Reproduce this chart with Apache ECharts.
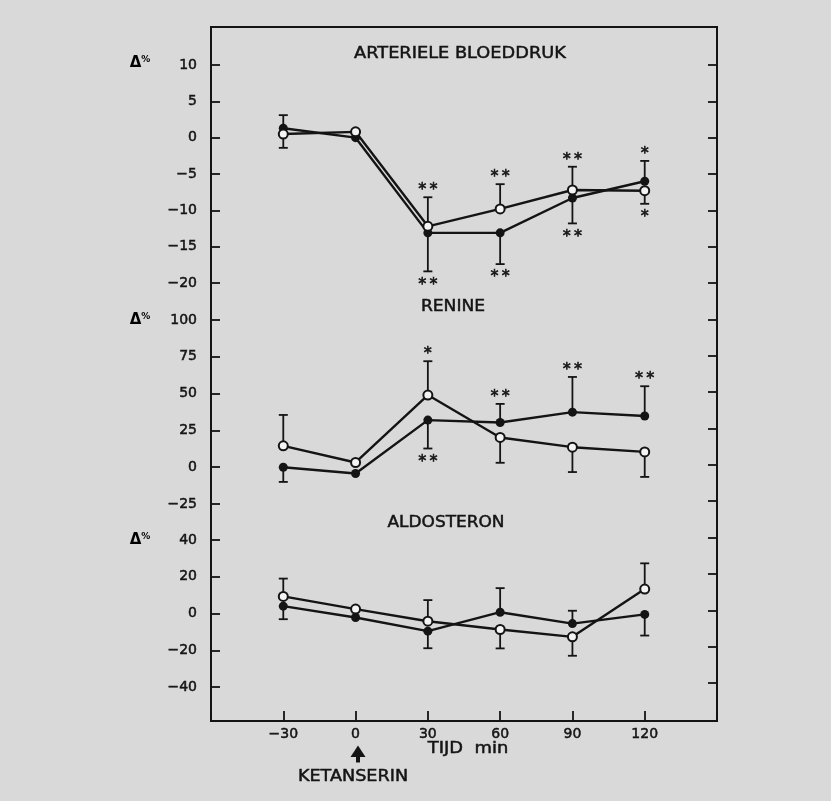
<!DOCTYPE html>
<html>
<head>
<meta charset="utf-8">
<script src="https://cdn.jsdelivr.net/npm/echarts@6/dist/echarts.min.js"></script>
<style>
  html, body { margin: 0; padding: 0; background: #d9d9d9; }
  #chart { width: 831px; height: 801px; }
</style>
</head>
<body>
<div id="chart"></div>
<script>
// Sampling times (min) relative to ketanserin administration
const times = [-30, 0, 30, 60, 90, 120];
const xTickLabels = [-30, 0, 30, 60, 90, 120];

// Arteriële bloeddruk, Δ% (filled = ●, open = ○); SEM drawn away from the other curve
const bpFilled    = [1.3, 0.0, -13.1, -13.1, -8.3, -6.0];
const bpOpen      = [0.5, 0.8, -12.2, -9.8, -7.2, -7.3];
const bpSemFilled = [1.8, null, 5.3, 4.3, 3.5, 2.8];
const bpSemOpen   = [1.9, null, 4.0, 3.4, 3.2, 1.8];
const bpSigFilled = ['', '', '**', '**', '**', '*'];
const bpSigOpen   = ['', '', '**', '**', '**', '*'];

// Renine, Δ%
const reFilled    = [0.0, -4.3, 32.0, 30.4, 37.4, 34.8];
const reOpen      = [14.5, 3.2, 49.0, 20.2, 13.6, 10.4];
const reSemFilled = [10.0, null, 19.3, 12.6, 23.9, 20.2];
const reSemOpen   = [21.0, null, 23.0, 17.2, 16.9, 17.0];
const reSigFilled = ['', '', '**', '**', '**', '**'];
const reSigOpen   = ['', '', '*', '', '', ''];

// Aldosteron, Δ%
const alFilled    = [4.0, -2.2, -9.6, 0.7, -5.5, -0.5];
const alOpen      = [9.3, 2.4, -4.2, -8.7, -12.7, 13.3];
const alSemFilled = [7.1, null, 9.3, 13.1, 7.0, 11.5];
const alSemOpen   = [9.7, null, 11.5, 10.3, 10.3, 14.0];
const alSig       = ['', '', '', '', '', ''];

// Y-axis scales per panel
const bpAxis = { min: -20, max: 10, interval: 5 };
const reAxis = { min: -25, max: 100, interval: 25 };
const alAxis = { min: -40, max: 40, interval: 20 };

const INK = '#141414';
const FONT = 'DejaVu Sans';
const minus = v => String(v).replace('-', '\u2212');

// Frame geometry (pixels)
const L = 211, R = 114;

const panels = [
  { filled: bpFilled, open: bpOpen, semF: bpSemFilled, semO: bpSemOpen, sigF: bpSigFilled, sigO: bpSigOpen, axis: bpAxis, top: 65, bottom: 518 },
  { filled: reFilled, open: reOpen, semF: reSemFilled, semO: reSemOpen, sigF: reSigFilled, sigO: reSigOpen, axis: reAxis, top: 320, bottom: 297 },
  { filled: alFilled, open: alOpen, semF: alSemFilled, semO: alSemOpen, sigF: alSig, sigO: alSig, axis: alAxis, top: 540, bottom: 114 }
];

// error bar items: [time, mean, end, direction]
function errItems(vals, other, sem, sig) {
  const out = [];
  vals.forEach((v, i) => {
    if (sem[i] == null) return;
    const dir = v >= other[i] ? 1 : -1;
    out.push({ value: [times[i], v, v + dir * sem[i], dir], sig: sig[i] });
  });
  return out;
}

function errorBarSeries(items, axisIdx) {
  return {
    type: 'custom', xAxisIndex: axisIdx, yAxisIndex: axisIdx, z: 1, silent: true, clip: false,
    data: items.map(d => d.value),
    renderItem(params, api) {
      const x = api.value(0);
      const a = api.coord([x, api.value(1)]);
      const b = api.coord([x, api.value(2)]);
      const dir = api.value(3);
      const sig = items[params.dataIndex].sig;
      const children = [
        { type: 'line', shape: { x1: a[0], y1: a[1], x2: b[0], y2: b[1] }, style: { stroke: INK, lineWidth: 1.8 } },
        { type: 'line', shape: { x1: b[0] - 4.5, y1: b[1], x2: b[0] + 4.5, y2: b[1] }, style: { stroke: INK, lineWidth: 1.8 } }
      ];
      if (sig) {
        children.push({
          type: 'text', x: b[0], y: dir > 0 ? b[1] - 7 : b[1] + 13,
          style: {
            text: sig.split('').join('\u2009'), fill: INK, stroke: INK, lineWidth: 0.6,
            fontSize: 16, fontFamily: FONT, align: 'center', verticalAlign: 'middle'
          }
        });
      }
      return { type: 'group', children };
    }
  };
}

function lineSeries(vals, axisIdx, open) {
  return {
    type: 'line', xAxisIndex: axisIdx, yAxisIndex: axisIdx, z: 3, silent: true,
    data: times.map((t, i) => [t, vals[i]]),
    symbol: 'circle', symbolSize: 9, showAllSymbol: true,
    lineStyle: { color: INK, width: 2.4 },
    itemStyle: { color: open ? '#f4f4f4' : INK, borderColor: INK, borderWidth: open ? 2 : 0, opacity: 1 }
  };
}

const tickLabelStyle = {
  color: INK, fontSize: 14, fontFamily: FONT,
  textBorderColor: INK, textBorderWidth: 0.5
};

const grids = [
  // outer frame with the time axis
  { left: L, right: R, top: 27, bottom: 80, show: true, borderColor: INK, borderWidth: 2, backgroundColor: 'transparent' },
  // right-hand frame ticks
  { left: L, right: R, top: 65, bottom: 118 }
];
const xAxes = [
  {
    gridIndex: 0, type: 'value', min: -60, max: 150, interval: 30, position: 'bottom',
    axisLine: { show: true, onZero: false, lineStyle: { color: INK, width: 2 } },
    axisTick: { show: true, inside: true, length: 10, lineStyle: { color: INK, width: 1.8 } },
    splitLine: { show: false },
    axisLabel: Object.assign({ margin: 6, formatter: v => xTickLabels.includes(v) ? minus(v) : '' }, tickLabelStyle)
  },
  { gridIndex: 1, type: 'value', min: -60, max: 150, show: false }
];
const yAxes = [
  { gridIndex: 0, type: 'value', min: 0, max: 1, show: false },
  {
    gridIndex: 1, type: 'value', min: 0, max: 17, interval: 1, position: 'right',
    axisLine: { show: false, onZero: false },
    axisTick: { show: true, inside: true, length: 9, lineStyle: { color: INK, width: 1.8 } },
    axisLabel: { show: false }, splitLine: { show: false }
  }
];
const series = [];

panels.forEach((p, k) => {
  const idx = k + 2;
  grids.push({ left: L, right: R, top: p.top, bottom: p.bottom });
  xAxes.push({ gridIndex: idx, type: 'value', min: -60, max: 150, show: false });
  yAxes.push({
    gridIndex: idx, type: 'value', min: p.axis.min, max: p.axis.max, interval: p.axis.interval, position: 'left',
    axisLine: { show: false, onZero: false },
    axisTick: { show: true, inside: true, length: 9, lineStyle: { color: INK, width: 1.8 } },
    splitLine: { show: false },
    axisLabel: Object.assign({ margin: 14, formatter: v => minus(v) }, tickLabelStyle)
  });
  series.push(errorBarSeries(errItems(p.filled, p.open, p.semF, p.sigF), idx));
  series.push(errorBarSeries(errItems(p.open, p.filled, p.semO, p.sigO), idx));
  series.push(lineSeries(p.filled, idx, false));
  series.push(lineSeries(p.open, idx, true));
});

function label(text, x, y, sx) {
  return {
    type: 'text', x, y, scaleX: sx, silent: true,
    style: {
      text, fill: INK, stroke: INK, lineWidth: 0.5,
      fontSize: 16, fontFamily: FONT, align: 'center', verticalAlign: 'middle'
    }
  };
}
function deltaPct(y) {
  return {
    type: 'text', x: 140, y, silent: true,
    style: {
      text: '{d|Δ}{p|%}', align: 'center', verticalAlign: 'middle',
      rich: {
        d: { fontSize: 15, fontWeight: 'bold', fontFamily: FONT, color: INK },
        p: { fontSize: 9, fontWeight: 'bold', fontFamily: FONT, color: INK, verticalAlign: 'top' }
      }
    }
  };
}

const graphic = [
  label('ARTERIELE BLOEDDRUK', 460, 54, 1.11),
  label('RENINE', 453, 307, 1.07),
  label('ALDOSTERON', 446, 523, 1.06),
  label('TIJD  min', 468, 749, 1.12),
  label('KETANSERIN', 353, 777, 1.1),
  deltaPct(63), deltaPct(320), deltaPct(540),
  // injection arrow under t = 0
  { type: 'polygon', silent: true, shape: { points: [[358, 745.5], [350.5, 757], [365.5, 757]] }, style: { fill: INK } },
  { type: 'rect', silent: true, shape: { x: 356, y: 756, width: 4, height: 6.5 }, style: { fill: INK } }
];

const chart = echarts.init(document.getElementById('chart'), null, { renderer: 'canvas' });
chart.setOption({
  animation: false,
  backgroundColor: '#d9d9d9',
  textStyle: { fontFamily: FONT, color: INK },
  grid: grids,
  xAxis: xAxes,
  yAxis: yAxes,
  series,
  graphic
});
</script>
</body>
</html>
